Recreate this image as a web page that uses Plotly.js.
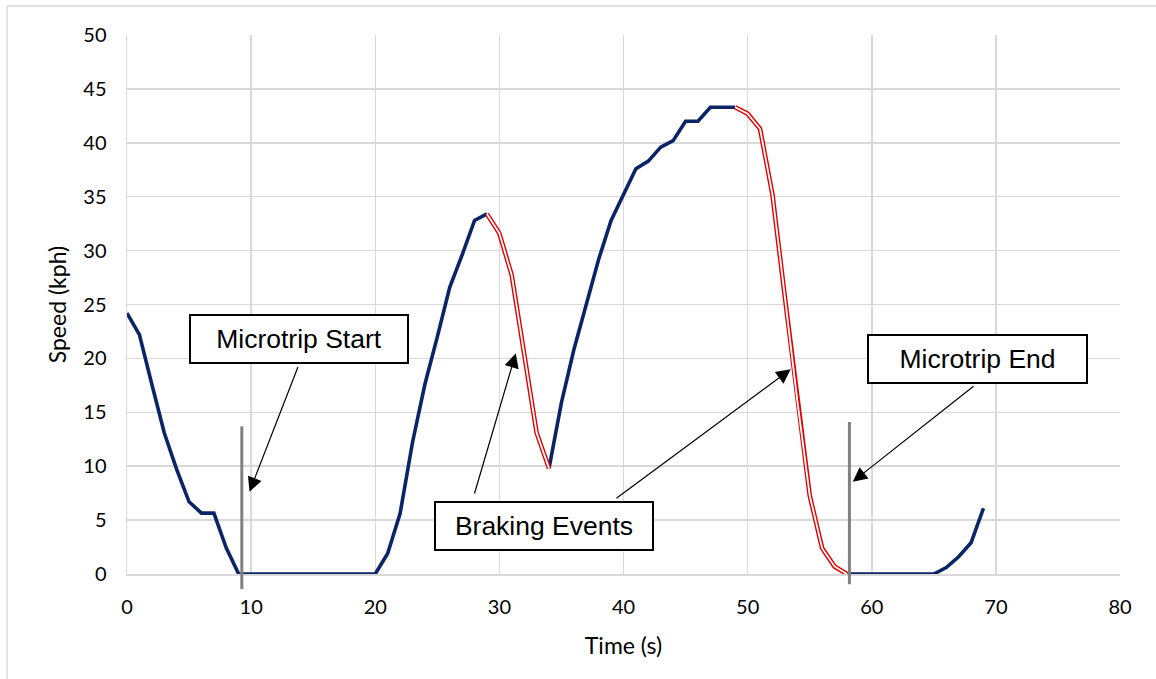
<!DOCTYPE html>
<html>
<head>
<meta charset="utf-8">
<script src="https://cdn.plot.ly/plotly-3.0.1.min.js"></script>
<style>
  html, body { margin: 0; padding: 0; background: #ffffff; }
  #chart { width: 1156px; height: 679px; }
</style>
</head>
<body>
<div id="chart"></div>
<script>
// ---- data ----
var timeSeconds = [0,1,2,3,4,5,6,7,8,9,10,11,12,13,14,15,16,17,18,19,20,21,22,23,24,25,26,27,28,29,30,31,32,33,34,35,36,37,38,39,40,41,42,43,44,45,46,47,48,49,50,51,52,53,54,55,56,57,58,59,60,61,62,63,64,65,66,67,68,69];
var speedKph = [24.2,22.2,17.6,13.1,9.7,6.7,5.65,5.65,2.4,0,
                0,0,0,0,0,0,0,0,0,0,0,
                1.9,5.6,12.2,17.6,22.0,26.6,29.6,32.8,33.4,
                31.6,27.7,20.5,13.1,9.8,
                15.9,20.8,25.1,29.2,32.8,35.2,37.6,38.3,39.6,40.2,42.0,42.0,43.3,43.3,43.3,
                42.7,41.3,35.2,25.7,16.1,7.3,2.4,0.7,0,
                0,0,0,0,0,0,0,
                0.6,1.6,2.9,6.1];
var brakingStart = [29, 49];
var brakingEnd = [34, 58];
var microtripMarkers = [9.25, 58.2];
var markerTop = [13.7, 14.1];
var markerBottom = [-1.4, -0.95];
var xTicks = [0,10,20,30,40,50,60,70,80];
var yTicks = [0,5,10,15,20,25,30,35,40,45,50];

function inBraking(t, inclusive) {
  for (var k = 0; k < brakingStart.length; k++) {
    if (inclusive ? (t >= brakingStart[k] && t <= brakingEnd[k]) : (t > brakingStart[k] && t < brakingEnd[k])) return true;
  }
  return false;
}
var blueY = speedKph.map(function (v, i) { return inBraking(timeSeconds[i], false) ? null : v; });
var redY = speedKph.map(function (v, i) { return inBraking(timeSeconds[i], true) ? v : null; });

var navy = '#0b2466';
var traces = [
  { x: timeSeconds, y: blueY, type: 'scatter', mode: 'lines', connectgaps: false,
    line: { color: navy, width: 3.6 }, hoverinfo: 'skip', showlegend: false },
  { x: timeSeconds, y: redY, type: 'scatter', mode: 'lines', connectgaps: false,
    line: { color: '#e00000', width: 4.6 }, hoverinfo: 'skip', showlegend: false },
  { x: timeSeconds, y: redY, type: 'scatter', mode: 'lines', connectgaps: false,
    line: { color: '#ffffff', width: 1.8 }, hoverinfo: 'skip', showlegend: false }
];

var shapes = [];
// outer chart border (left and top visible)
shapes.push({ type: 'line', xref: 'paper', yref: 'paper', x0: -0.1208, x1: -0.1208, y0: 1.0538, y1: -0.25,
  line: { color: '#d9d9d9', width: 1.5 } });
shapes.push({ type: 'line', xref: 'paper', yref: 'paper', x0: -0.1208, x1: 1.1, y0: 1.0538, y1: 1.0538,
  line: { color: '#d9d9d9', width: 1.5 } });
for (var m = 0; m < microtripMarkers.length; m++) {
  shapes.push({ type: 'line', xref: 'x', yref: 'paper',
    x0: microtripMarkers[m], x1: microtripMarkers[m],
    y0: markerBottom[m] / 50, y1: markerTop[m] / 50,
    line: { color: '#808080', width: 3 } });
}

var boxFont = { family: 'Liberation Sans, Arial, sans-serif', size: 26.5, color: '#000000' };
function box(text, x, y, w) {
  return { text: text, x: x, y: y, xref: 'x', yref: 'y', showarrow: false,
    width: w, height: 46, bgcolor: '#ffffff', bordercolor: '#000000', borderwidth: 2, borderpad: 0,
    font: boxFont, align: 'center', valign: 'middle' };
}
function arrow(tipX, tipY, tailX, tailY) {
  return { text: '', x: tipX, y: tipY, ax: tailX, ay: tailY, xref: 'x', yref: 'y', axref: 'x', ayref: 'y',
    showarrow: true, arrowhead: 2, arrowsize: 2.4, arrowwidth: 1.2, arrowcolor: '#000000', standoff: 0, startstandoff: 0 };
}
var annotations = [
  arrow(9.87, 7.63, 13.82, 19.34),
  arrow(31.32, 20.47, 27.96, 7.33),
  arrow(53.47, 18.99, 39.31, 6.93),
  arrow(58.47, 8.56, 68.32, 17.53),
  box('Microtrip Start', 13.86, 21.8, 216),
  box('Braking Events', 33.6, 4.45, 216),
  box('Microtrip End', 68.52, 19.94, 217)
];

var tickFont = { family: 'Lato, Noto Sans, sans-serif', size: 20, color: '#000000' };
var titleFont = { family: 'Lato, Noto Sans, sans-serif', size: 23, color: '#000000' };

var layout = {
  width: 1156, height: 679,
  margin: { l: 127, r: 36, t: 35, b: 105, pad: 0 },
  paper_bgcolor: '#ffffff', plot_bgcolor: '#ffffff',
  showlegend: false,
  xaxis: { range: [0, 80], tickvals: xTicks, ticktext: xTicks.map(String), ticks: '',
    showgrid: true, gridcolor: '#d9d9d9', gridwidth: 1.5, zeroline: false,
    showline: true, linecolor: '#d9d9d9', linewidth: 1.5, mirror: false,
    tickfont: tickFont, ticklabelstandoff: 14,
    title: { text: 'Time (s)', font: titleFont, standoff: 21 } },
  yaxis: { range: [0, 50], tickvals: yTicks, ticktext: yTicks.map(String), ticks: '',
    showgrid: true, gridcolor: '#d9d9d9', gridwidth: 1.5, zeroline: false,
    showline: true, linecolor: '#d9d9d9', linewidth: 1.5,
    tickfont: tickFont, ticklabelstandoff: 15,
    title: { text: 'Speed (kph)', font: titleFont, standoff: 10 } },
  shapes: shapes,
  annotations: annotations
};

Plotly.newPlot('chart', traces, layout, { staticPlot: true, displayModeBar: false });
</script>
</body>
</html>
